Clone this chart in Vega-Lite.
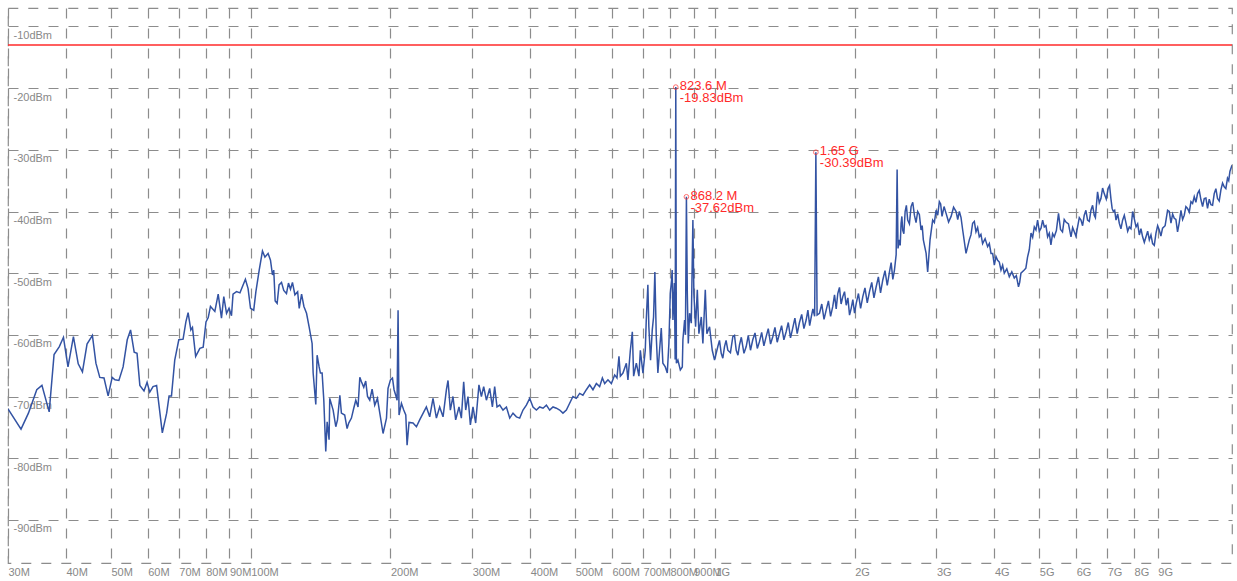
{
  "$schema": "https://vega.github.io/schema/vega-lite/v6.json",
  "width": 1224,
  "height": 555,
  "autosize": {"type": "none"},
  "padding": {"left": 8, "top": 8, "right": 5, "bottom": 18},
  "background": "white",
  "config": {
    "view": {"stroke": "#8c8c8c", "strokeDash": [10, 10], "strokeWidth": 1.2},
    "axis": {
      "grid": true, "gridColor": "#8c8c8c", "gridDash": [10, 10], "gridWidth": 1.2,
      "domain": false, "ticks": false, "tickSize": 0,
      "labelFont": "Liberation Sans", "labelFontSize": 11, "labelColor": "#888888",
      "labelOverlap": false, "labelBound": false, "labelFlush": false
    }
  },
  "datasets": {
    "trace": [
      {"freq": 30, "level": -72.0}, {"freq": 32.0, "level": -75.3}, {"freq": 33.2, "level": -72.7}, {"freq": 34.6, "level": -68.9},
      {"freq": 35.5, "level": -68.2}, {"freq": 36.8, "level": -72.5}, {"freq": 37.7, "level": -63.2}, {"freq": 38.7, "level": -61.9},
      {"freq": 39.5, "level": -60.4}, {"freq": 40.4, "level": -65.2}, {"freq": 41.5, "level": -60.3}, {"freq": 42.5, "level": -64.7},
      {"freq": 43.4, "level": -66.0}, {"freq": 44.4, "level": -61.5}, {"freq": 45.6, "level": -60.1}, {"freq": 46.4, "level": -64.6},
      {"freq": 47.3, "level": -66.9}, {"freq": 48.3, "level": -67.0}, {"freq": 49.3, "level": -69.9}, {"freq": 50.3, "level": -66.9},
      {"freq": 51.0, "level": -67.3}, {"freq": 52.0, "level": -67.4}, {"freq": 53.1, "level": -65.2}, {"freq": 54.2, "level": -60.8},
      {"freq": 55.1, "level": -59.2}, {"freq": 56.1, "level": -62.8}, {"freq": 56.9, "level": -63.0}, {"freq": 57.7, "level": -68.2},
      {"freq": 58.9, "level": -69.1}, {"freq": 59.8, "level": -67.7}, {"freq": 60.6, "level": -69.3}, {"freq": 61.6, "level": -68.4},
      {"freq": 62.7, "level": -68.2}, {"freq": 64.5, "level": -75.9}, {"freq": 65.9, "level": -72.7}, {"freq": 66.7, "level": -69.9},
      {"freq": 67.5, "level": -69.9}, {"freq": 68.6, "level": -64.1}, {"freq": 70.0, "level": -60.8}, {"freq": 71.5, "level": -60.7},
      {"freq": 72.5, "level": -57.9}, {"freq": 73.3, "level": -56.4}, {"freq": 74.3, "level": -59.2}, {"freq": 74.9, "level": -58.8},
      {"freq": 76.1, "level": -63.5}, {"freq": 77.7, "level": -62.2}, {"freq": 79.0, "level": -62.0}, {"freq": 80.1, "level": -57.9},
      {"freq": 81.0, "level": -57.2}, {"freq": 81.9, "level": -55.4}, {"freq": 83.7, "level": -56.2}, {"freq": 85.1, "level": -53.4},
      {"freq": 86.5, "level": -57.3}, {"freq": 87.5, "level": -53.8}, {"freq": 88.7, "level": -56.5}, {"freq": 89.8, "level": -55.7},
      {"freq": 90.9, "level": -56.9}, {"freq": 91.6, "level": -53.4}, {"freq": 93.2, "level": -53.0}, {"freq": 94.8, "level": -53.2},
      {"freq": 97.4, "level": -51.0}, {"freq": 98.7, "level": -52.5}, {"freq": 99.9, "level": -55.7}, {"freq": 101.5, "level": -56.0},
      {"freq": 102.6, "level": -53.0}, {"freq": 104.3, "level": -49.5}, {"freq": 106.0, "level": -46.4}, {"freq": 107.3, "level": -47.4},
      {"freq": 109.0, "level": -46.8}, {"freq": 110.3, "level": -47.9}, {"freq": 111.4, "level": -50.3}, {"freq": 112.1, "level": -49.5},
      {"freq": 112.9, "level": -54.5}, {"freq": 114.0, "level": -54.9}, {"freq": 115.1, "level": -51.9}, {"freq": 116.5, "level": -51.5},
      {"freq": 117.8, "level": -52.8}, {"freq": 119.4, "level": -53.3}, {"freq": 120.6, "level": -51.6}, {"freq": 121.8, "level": -52.6},
      {"freq": 123.0, "level": -51.5}, {"freq": 124.5, "level": -53.5}, {"freq": 126.2, "level": -53.0}, {"freq": 127.2, "level": -55.7},
      {"freq": 128.7, "level": -53.4}, {"freq": 130.2, "level": -55.4}, {"freq": 131.9, "level": -56.5}, {"freq": 133.6, "level": -58.7},
      {"freq": 135.6, "level": -61.4}, {"freq": 136.3, "level": -66.2}, {"freq": 138.1, "level": -71.3}, {"freq": 139.0, "level": -63.3},
      {"freq": 140.4, "level": -65.2}, {"freq": 141.3, "level": -66.2}, {"freq": 142.5, "level": -66.2}, {"freq": 143.7, "level": -70.6},
      {"freq": 145.1, "level": -78.9}, {"freq": 146.1, "level": -74.1}, {"freq": 147.5, "level": -77.0}, {"freq": 148.0, "level": -70.3},
      {"freq": 150.5, "level": -72.2}, {"freq": 152.5, "level": -74.9}, {"freq": 153.8, "level": -73.8}, {"freq": 155.6, "level": -69.8},
      {"freq": 156.8, "level": -72.7}, {"freq": 159.4, "level": -73.0}, {"freq": 161.3, "level": -75.2}, {"freq": 162.6, "level": -74.3},
      {"freq": 164.8, "level": -73.5}, {"freq": 166.7, "level": -71.9}, {"freq": 168.4, "level": -70.6}, {"freq": 170.3, "level": -71.7},
      {"freq": 171.8, "level": -66.9}, {"freq": 173.2, "level": -67.6}, {"freq": 175.2, "level": -68.5}, {"freq": 176.9, "level": -67.5},
      {"freq": 178.5, "level": -70.0}, {"freq": 180.5, "level": -70.6}, {"freq": 182.6, "level": -68.8}, {"freq": 185.0, "level": -71.4},
      {"freq": 187.5, "level": -70.3}, {"freq": 189.7, "level": -72.7}, {"freq": 192.8, "level": -76.0}, {"freq": 196.1, "level": -73.5},
      {"freq": 197.6, "level": -68.7}, {"freq": 200.0, "level": -67.3}, {"freq": 202.0, "level": -67.0}, {"freq": 203.6, "level": -68.9},
      {"freq": 205.3, "level": -69.8}, {"freq": 206.7, "level": -70.6}, {"freq": 207.7, "level": -56.0}, {"freq": 208.7, "level": -73.0},
      {"freq": 211.2, "level": -71.1}, {"freq": 213.6, "level": -72.2}, {"freq": 215.8, "level": -73.0}, {"freq": 217.2, "level": -77.9},
      {"freq": 219.3, "level": -74.2}, {"freq": 223.7, "level": -74.3}, {"freq": 227.5, "level": -74.9}, {"freq": 231.2, "level": -73.8},
      {"freq": 239.0, "level": -71.7}, {"freq": 243.0, "level": -73.3}, {"freq": 247.0, "level": -70.3}, {"freq": 251.2, "level": -73.5},
      {"freq": 255.3, "level": -71.7}, {"freq": 259.6, "level": -73.3}, {"freq": 264.0, "level": -68.9}, {"freq": 266.1, "level": -67.4},
      {"freq": 269.2, "level": -72.2}, {"freq": 272.7, "level": -70.0}, {"freq": 276.4, "level": -73.8}, {"freq": 281.0, "level": -71.7},
      {"freq": 284.3, "level": -73.5}, {"freq": 287.6, "level": -67.6}, {"freq": 290.5, "level": -72.2}, {"freq": 293.8, "level": -70.0},
      {"freq": 297.3, "level": -74.6}, {"freq": 301.2, "level": -71.7}, {"freq": 305.2, "level": -74.3}, {"freq": 310.2, "level": -68.1},
      {"freq": 314.0, "level": -70.0}, {"freq": 317.6, "level": -68.4}, {"freq": 321.9, "level": -70.6}, {"freq": 327.2, "level": -68.7},
      {"freq": 331.6, "level": -71.7}, {"freq": 335.4, "level": -68.4}, {"freq": 339.3, "level": -71.7}, {"freq": 343.9, "level": -71.4},
      {"freq": 349.5, "level": -72.2}, {"freq": 355.5, "level": -71.7}, {"freq": 361.4, "level": -73.5}, {"freq": 367.3, "level": -72.7},
      {"freq": 373.6, "level": -73.3}, {"freq": 379.7, "level": -73.5}, {"freq": 386.0, "level": -72.2}, {"freq": 392.5, "level": -71.4},
      {"freq": 399.0, "level": -70.3}, {"freq": 405.6, "level": -71.7}, {"freq": 412.5, "level": -72.2}, {"freq": 419.3, "level": -71.7},
      {"freq": 426.3, "level": -71.9}, {"freq": 433.5, "level": -71.4}, {"freq": 440.6, "level": -72.2}, {"freq": 447.9, "level": -71.7},
      {"freq": 455.5, "level": -71.9}, {"freq": 463.0, "level": -72.2}, {"freq": 470.6, "level": -72.7}, {"freq": 478.6, "level": -72.2},
      {"freq": 486.5, "level": -71.1}, {"freq": 494.5, "level": -70.0}, {"freq": 502.9, "level": -70.3}, {"freq": 511.2, "level": -69.5},
      {"freq": 519.6, "level": -69.8}, {"freq": 528.5, "level": -68.9}, {"freq": 537.2, "level": -68.1}, {"freq": 546.1, "level": -68.9},
      {"freq": 555.4, "level": -67.9}, {"freq": 564.5, "level": -68.4}, {"freq": 572.2, "level": -67.0}, {"freq": 578.8, "level": -67.9},
      {"freq": 588.3, "level": -67.3}, {"freq": 598.3, "level": -67.9}, {"freq": 608.2, "level": -66.5}, {"freq": 615.2, "level": -67.0},
      {"freq": 621.3, "level": -63.5}, {"freq": 625.6, "level": -66.7}, {"freq": 633.7, "level": -66.2}, {"freq": 644.5, "level": -64.6},
      {"freq": 649.6, "level": -67.3}, {"freq": 657.4, "level": -62.5}, {"freq": 663.9, "level": -59.5}, {"freq": 668.2, "level": -66.7},
      {"freq": 677.2, "level": -64.6}, {"freq": 686.0, "level": -66.7}, {"freq": 690.8, "level": -62.5}, {"freq": 699.7, "level": -66.2},
      {"freq": 707.9, "level": -62.5}, {"freq": 711.4, "level": -57.6}, {"freq": 717.1, "level": -51.9}, {"freq": 720.6, "level": -58.7},
      {"freq": 726.7, "level": -64.1}, {"freq": 732.9, "level": -59.2}, {"freq": 737.6, "level": -57.1}, {"freq": 742.4, "level": -49.8},
      {"freq": 747.6, "level": -60.3}, {"freq": 753.6, "level": -66.2}, {"freq": 759.9, "level": -62.5}, {"freq": 766.4, "level": -58.9},
      {"freq": 772.5, "level": -64.6}, {"freq": 781.8, "level": -65.2}, {"freq": 789.6, "level": -66.2}, {"freq": 795.9, "level": -61.4},
      {"freq": 801.4, "level": -53.3}, {"freq": 806.6, "level": -51.1}, {"freq": 809.0, "level": -49.5}, {"freq": 812.0, "level": -57.6},
      {"freq": 818.0, "level": -51.6}, {"freq": 821.0, "level": -64.0}, {"freq": 823.6, "level": -19.83}, {"freq": 826.0, "level": -64.6},
      {"freq": 832.3, "level": -64.1}, {"freq": 842.3, "level": -65.7}, {"freq": 850.7, "level": -65.2}, {"freq": 853.2, "level": -60.8},
      {"freq": 860.4, "level": -57.6}, {"freq": 864.0, "level": -60.0}, {"freq": 868.2, "level": -37.62}, {"freq": 872.0, "level": -53.2},
      {"freq": 876.3, "level": -61.4}, {"freq": 882.0, "level": -56.5}, {"freq": 889.4, "level": -58.1}, {"freq": 896.5, "level": -41.4},
      {"freq": 900.9, "level": -53.3}, {"freq": 908.6, "level": -58.7}, {"freq": 916.4, "level": -52.7}, {"freq": 923.6, "level": -59.8},
      {"freq": 934.7, "level": -57.1}, {"freq": 942.1, "level": -61.4}, {"freq": 953.4, "level": -52.7}, {"freq": 960.9, "level": -59.8},
      {"freq": 973.8, "level": -58.7}, {"freq": 986.9, "level": -62.5}, {"freq": 998.2, "level": -64.1}, {"freq": 1014.6, "level": -61.9},
      {"freq": 1031.8, "level": -63.0}, {"freq": 1048.8, "level": -61.9}, {"freq": 1066.1, "level": -62.5}, {"freq": 1093.0, "level": -60.3},
      {"freq": 1111.6, "level": -62.5}, {"freq": 1129.9, "level": -61.6}, {"freq": 1168, "level": -61.9}, {"freq": 1206.6, "level": -60.8},
      {"freq": 1247.4, "level": -61.1}, {"freq": 1289.4, "level": -60.3}, {"freq": 1332.3, "level": -60.3}, {"freq": 1377.3, "level": -59.8},
      {"freq": 1423.8, "level": -59.5}, {"freq": 1471.1, "level": -58.9}, {"freq": 1521, "level": -58.0}, {"freq": 1572.4, "level": -57.6},
      {"freq": 1612.8, "level": -57.1}, {"freq": 1640, "level": -57.0}, {"freq": 1650, "level": -30.39}, {"freq": 1660, "level": -56.8},
      {"freq": 1680, "level": -56.5}, {"freq": 1736.6, "level": -56.0}, {"freq": 1794.4, "level": -55.4}, {"freq": 1839.5, "level": -53.3},
      {"freq": 1886, "level": -53.8}, {"freq": 1918, "level": -55.2}, {"freq": 1966, "level": -55.7}, {"freq": 2015.6, "level": -54.9},
      {"freq": 2082.5, "level": -53.8}, {"freq": 2152.8, "level": -53.0}, {"freq": 2225.4, "level": -52.2}, {"freq": 2299.4, "level": -51.1},
      {"freq": 2377, "level": -49.8}, {"freq": 2436.6, "level": -49.5}, {"freq": 2457.2, "level": -47.0}, {"freq": 2469, "level": -33.2},
      {"freq": 2480, "level": -46.0}, {"freq": 2497, "level": -44.6}, {"freq": 2518, "level": -41.9}, {"freq": 2538, "level": -43.0},
      {"freq": 2569, "level": -40.0}, {"freq": 2602, "level": -41.4}, {"freq": 2646, "level": -39.2}, {"freq": 2690, "level": -40.6},
      {"freq": 2734, "level": -40.0}, {"freq": 2780, "level": -43.0}, {"freq": 2812, "level": -44.6}, {"freq": 2851, "level": -46.8},
      {"freq": 2873, "level": -49.8}, {"freq": 2907, "level": -44.6}, {"freq": 2945, "level": -41.4}, {"freq": 2995, "level": -39.8},
      {"freq": 3044, "level": -38.4}, {"freq": 3085, "level": -40.8}, {"freq": 3148, "level": -40.3}, {"freq": 3227, "level": -40.8},
      {"freq": 3308, "level": -40.0}, {"freq": 3362, "level": -40.0}, {"freq": 3418, "level": -43.0}, {"freq": 3475, "level": -46.8},
      {"freq": 3532, "level": -44.6}, {"freq": 3591, "level": -41.9}, {"freq": 3651, "level": -43.3}, {"freq": 3711, "level": -44.1},
      {"freq": 3773, "level": -45.2}, {"freq": 3868, "level": -45.7}, {"freq": 3934, "level": -46.8}, {"freq": 3999, "level": -48.7},
      {"freq": 4065, "level": -47.9}, {"freq": 4133, "level": -49.5}, {"freq": 4201, "level": -50.0}, {"freq": 4307, "level": -50.6},
      {"freq": 4415, "level": -50.8}, {"freq": 4508, "level": -52.2}, {"freq": 4563, "level": -50.0}, {"freq": 4638, "level": -49.5},
      {"freq": 4715, "level": -47.4}, {"freq": 4797, "level": -43.5}, {"freq": 4876, "level": -42.5}, {"freq": 4956, "level": -41.4},
      {"freq": 5041, "level": -42.7}, {"freq": 5124, "level": -42.5}, {"freq": 5209, "level": -44.1}, {"freq": 5295, "level": -45.4},
      {"freq": 5383, "level": -44.1}, {"freq": 5498, "level": -40.3}, {"freq": 5608, "level": -43.3}, {"freq": 5704, "level": -41.7},
      {"freq": 5849, "level": -44.1}, {"freq": 5945, "level": -43.3}, {"freq": 6044, "level": -42.5}, {"freq": 6146, "level": -41.4},
      {"freq": 6247, "level": -40.6}, {"freq": 6350, "level": -41.4}, {"freq": 6458, "level": -39.8}, {"freq": 6564, "level": -40.6},
      {"freq": 6640, "level": -38.7}, {"freq": 6673, "level": -36.8}, {"freq": 6786, "level": -37.9}, {"freq": 6898, "level": -37.1},
      {"freq": 7036, "level": -36.2}, {"freq": 7130, "level": -37.9}, {"freq": 7216, "level": -40.0}, {"freq": 7313, "level": -41.4},
      {"freq": 7433, "level": -41.9}, {"freq": 7556, "level": -41.4}, {"freq": 7685, "level": -41.9}, {"freq": 7811, "level": -42.5},
      {"freq": 7941, "level": -40.0}, {"freq": 8076, "level": -42.5}, {"freq": 8209, "level": -43.8}, {"freq": 8344, "level": -44.1},
      {"freq": 8486, "level": -44.1}, {"freq": 8626, "level": -44.6}, {"freq": 8768, "level": -45.2}, {"freq": 8916, "level": -43.5},
      {"freq": 9063, "level": -43.0}, {"freq": 9212, "level": -42.7}, {"freq": 9444, "level": -39.8}, {"freq": 9604, "level": -41.9},
      {"freq": 9762, "level": -41.1}, {"freq": 9923, "level": -43.3}, {"freq": 10092, "level": -39.8}, {"freq": 10258, "level": -40.6},
      {"freq": 10427, "level": -39.5}, {"freq": 10605, "level": -38.4}, {"freq": 10780, "level": -37.6}, {"freq": 10958, "level": -37.1},
      {"freq": 11144, "level": -38.1}, {"freq": 11328, "level": -37.9}, {"freq": 11514, "level": -39.5}, {"freq": 11710, "level": -38.9},
      {"freq": 11903, "level": -37.1}, {"freq": 12099, "level": -37.9}, {"freq": 12304, "level": -36.5}, {"freq": 12507, "level": -36.0},
      {"freq": 12713, "level": -34.6}, {"freq": 12866, "level": -33.5}, {"freq": 13000, "level": -32.5},
      {"freq": 1023, "level": -60.9}, {"freq": 1040, "level": -63.8}, {"freq": 1057, "level": -60.9}, {"freq": 1080, "level": -62.9},
      {"freq": 1102, "level": -60.1}, {"freq": 1121, "level": -63.3}, {"freq": 1140, "level": -60.4}, {"freq": 1155, "level": -63.0},
      {"freq": 1180, "level": -60.1}, {"freq": 1193, "level": -62.5}, {"freq": 1220, "level": -59.7}, {"freq": 1234, "level": -62.2},
      {"freq": 1261, "level": -59.6}, {"freq": 1275, "level": -61.8}, {"freq": 1303, "level": -59.0}, {"freq": 1318, "level": -61.5},
      {"freq": 1347, "level": -58.8}, {"freq": 1362, "level": -61.2}, {"freq": 1392, "level": -58.5}, {"freq": 1408, "level": -60.8},
      {"freq": 1439, "level": -58.0}, {"freq": 1455, "level": -60.5}, {"freq": 1487, "level": -57.3}, {"freq": 1504, "level": -59.8},
      {"freq": 1538, "level": -56.7}, {"freq": 1555, "level": -59.0}, {"freq": 1586, "level": -56.0}, {"freq": 1600, "level": -58.5},
      {"freq": 1626, "level": -55.8}, {"freq": 1699, "level": -55.0}, {"freq": 1718, "level": -57.5}, {"freq": 1756, "level": -54.5},
      {"freq": 1775, "level": -57.0}, {"freq": 1810, "level": -53.5}, {"freq": 1825, "level": -55.8}, {"freq": 1855, "level": -52.3},
      {"freq": 1870, "level": -55.0}, {"freq": 1902, "level": -53.0}, {"freq": 1934, "level": -54.0}, {"freq": 1950, "level": -56.8},
      {"freq": 1982, "level": -54.3}, {"freq": 1999, "level": -56.5}, {"freq": 2038, "level": -53.3}, {"freq": 2060, "level": -55.7},
      {"freq": 2105, "level": -52.4}, {"freq": 2129, "level": -54.8}, {"freq": 2177, "level": -51.5}, {"freq": 2201, "level": -54.0},
      {"freq": 2250, "level": -50.6}, {"freq": 2274, "level": -53.2}, {"freq": 2325, "level": -49.6}, {"freq": 2351, "level": -52.0},
      {"freq": 2397, "level": -48.3}, {"freq": 2417, "level": -51.0}, {"freq": 2507, "level": -45.5}, {"freq": 2528, "level": -40.8},
      {"freq": 2553, "level": -43.6}, {"freq": 2585, "level": -39.0}, {"freq": 2624, "level": -42.0}, {"freq": 2668, "level": -38.5},
      {"freq": 2712, "level": -41.8}, {"freq": 2757, "level": -40.5}, {"freq": 2796, "level": -42.3}, {"freq": 2970, "level": -41.8},
      {"freq": 3020, "level": -40.6}, {"freq": 3064, "level": -38.8}, {"freq": 3116, "level": -39.2}, {"freq": 3187, "level": -41.7},
      {"freq": 3267, "level": -39.3}, {"freq": 3335, "level": -41.3}, {"freq": 3390, "level": -41.0}, {"freq": 3561, "level": -43.8},
      {"freq": 3621, "level": -41.6}, {"freq": 3681, "level": -42.6}, {"freq": 3742, "level": -43.7}, {"freq": 3820, "level": -44.4},
      {"freq": 3901, "level": -45.2}, {"freq": 3966, "level": -46.8}, {"freq": 4032, "level": -47.3}, {"freq": 4099, "level": -48.2},
      {"freq": 4167, "level": -48.7}, {"freq": 4254, "level": -49.3}, {"freq": 4361, "level": -49.8}, {"freq": 4460, "level": -50.4},
      {"freq": 4535, "level": -51.5}, {"freq": 4676, "level": -49.2}, {"freq": 4756, "level": -46.2}, {"freq": 4836, "level": -44.2},
      {"freq": 4916, "level": -43.0}, {"freq": 4998, "level": -43.2}, {"freq": 5082, "level": -41.4}, {"freq": 5166, "level": -42.3},
      {"freq": 5252, "level": -43.5}, {"freq": 5339, "level": -43.6}, {"freq": 5440, "level": -43.1}, {"freq": 5553, "level": -42.9},
      {"freq": 5656, "level": -41.3}, {"freq": 5776, "level": -42.0}, {"freq": 5897, "level": -42.6}, {"freq": 5994, "level": -44.0},
      {"freq": 6095, "level": -41.0}, {"freq": 6196, "level": -42.3}, {"freq": 6298, "level": -39.8}, {"freq": 6404, "level": -41.6},
      {"freq": 6511, "level": -39.0}, {"freq": 6602, "level": -41.0}, {"freq": 6730, "level": -38.6}, {"freq": 6842, "level": -36.2},
      {"freq": 6967, "level": -38.0}, {"freq": 7083, "level": -35.8}, {"freq": 7173, "level": -39.5}, {"freq": 7264, "level": -39.8},
      {"freq": 7373, "level": -40.4}, {"freq": 7494, "level": -42.8}, {"freq": 7620, "level": -40.6}, {"freq": 7748, "level": -43.2},
      {"freq": 7876, "level": -42.8}, {"freq": 8008, "level": -41.2}, {"freq": 8142, "level": -42.0}, {"freq": 8276, "level": -42.8},
      {"freq": 8415, "level": -45.0}, {"freq": 8556, "level": -43.2}, {"freq": 8697, "level": -43.8}, {"freq": 8842, "level": -45.5},
      {"freq": 8990, "level": -42.3}, {"freq": 9137, "level": -44.0}, {"freq": 9330, "level": -42.3}, {"freq": 9524, "level": -40.0},
      {"freq": 9683, "level": -40.4}, {"freq": 9842, "level": -41.3}, {"freq": 10007, "level": -41.8}, {"freq": 10175, "level": -41.3},
      {"freq": 10342, "level": -39.2}, {"freq": 10516, "level": -40.1}, {"freq": 10692, "level": -38.7}, {"freq": 10869, "level": -38.5},
      {"freq": 11051, "level": -36.6}, {"freq": 11236, "level": -39.2}, {"freq": 11421, "level": -37.8}, {"freq": 11612, "level": -38.0},
      {"freq": 11806, "level": -39.0}, {"freq": 12001, "level": -36.3}, {"freq": 12201, "level": -38.3}, {"freq": 12405, "level": -35.4},
      {"freq": 12610, "level": -36.3}, {"freq": 12790, "level": -35.0}
    ],
    "markers": [
      {"freq": 823.6, "level": -19.83, "label": ["823.6 M", "-19.83dBm"]},
      {"freq": 868.2, "level": -37.62, "label": ["868.2 M", "-37.62dBm"]},
      {"freq": 1650, "level": -30.39, "label": ["1.65 G", "-30.39dBm"]}
    ],
    "limit": [{"level": -13}]
  },
  "layer": [
    {
      "data": {"name": "trace"},
      "mark": {"type": "line", "color": "#3353a3", "strokeWidth": 1.5, "clip": true},
      "encoding": {
        "x": {
          "field": "freq", "type": "quantitative", "title": null,
          "scale": {"type": "log", "domain": [30, 13000], "nice": false},
          "axis": {
            "values": [30, 40, 50, 60, 70, 80, 90, 100, 200, 300, 400, 500, 600, 700, 800, 900, 1000, 2000, 3000, 4000, 5000, 6000, 7000, 8000, 9000],
            "labelExpr": "datum.value >= 1000 ? (datum.value / 1000) + 'G' : datum.value + 'M'",
            "labelAlign": "left", "labelBaseline": "top", "labelPadding": 3
          }
        },
        "y": {
          "field": "level", "type": "quantitative", "title": null,
          "scale": {"domain": [-97, -7], "nice": false, "zero": false},
          "axis": {
            "values": [-90, -80, -70, -60, -50, -40, -30, -20, -10],
            "labelExpr": "datum.value + 'dBm'",
            "labelAlign": "left", "labelBaseline": "top", "labelPadding": -5, "labelOffset": 3
          }
        }
      }
    },
    {
      "data": {"name": "limit"},
      "mark": {"type": "rule", "color": "#ff2a2a", "strokeWidth": 1.3},
      "encoding": {"y": {"field": "level", "type": "quantitative", "title": null}}
    },
    {
      "data": {"name": "markers"},
      "mark": {"type": "point", "shape": "circle", "filled": false, "color": "#ff3030", "size": 22, "strokeWidth": 1},
      "encoding": {
        "x": {"field": "freq", "type": "quantitative", "title": null},
        "y": {"field": "level", "type": "quantitative", "title": null}
      }
    },
    {
      "data": {"name": "markers"},
      "mark": {"type": "text", "align": "left", "baseline": "top", "dx": 4, "dy": -7, "font": "Liberation Sans", "fontSize": 13, "lineHeight": 12, "color": "#ff2a2a"},
      "encoding": {
        "x": {"field": "freq", "type": "quantitative", "title": null},
        "y": {"field": "level", "type": "quantitative", "title": null},
        "text": {"field": "label"}
      }
    }
  ]
}
